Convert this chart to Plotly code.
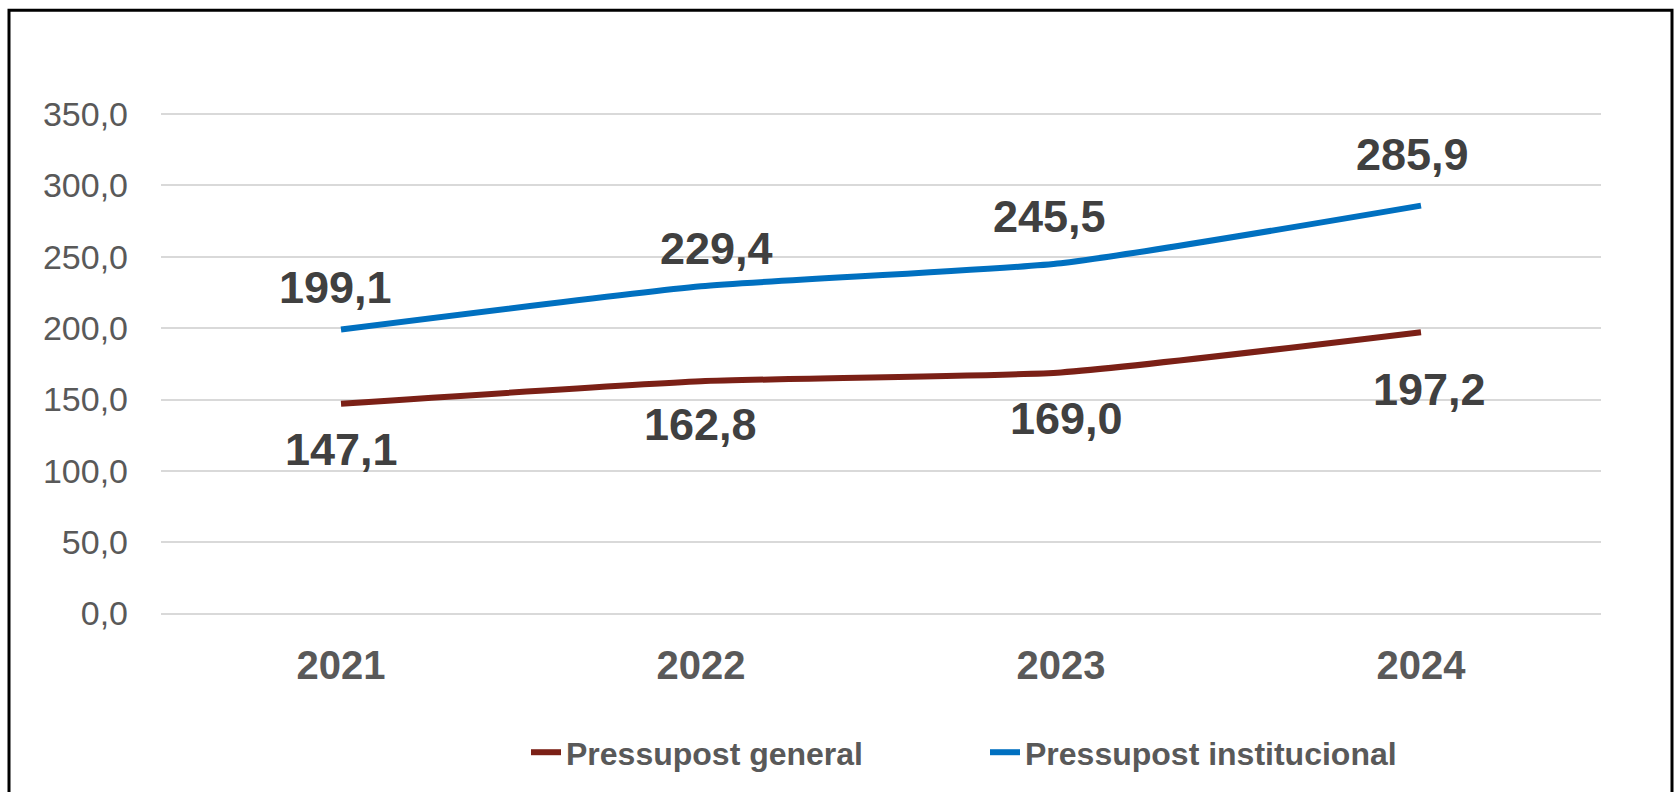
import plotly.graph_objects as go

years = ["2021", "2022", "2023", "2024"]
general = [147.1, 162.8, 169.0, 197.2]
institucional = [199.1, 229.4, 245.5, 285.9]
series_names = ["Pressupost general", "Pressupost institucional"]
y_ticks = [0, 50, 100, 150, 200, 250, 300, 350]

# styling
COL_GEN = "#7B2016"
COL_INS = "#0070C0"
FONT = "Arial, Liberation Sans, sans-serif"
lab_shift_ins = [(-6, 42), (15, 38), (-12, 47), (-9, 51)]
lab_shift_gen = [(0, -46), (-1, -43), (5, -46), (8, -57)]

W, H = 1674, 792
Y_MIN, Y_MAX = -1, 355
SCALE = 500 / 350           # px per unit
L, R = 161, 73
T = 114 - (Y_MAX - 350) * SCALE
ph = (Y_MAX - Y_MIN) * SCALE
B = H - T - ph
pw = W - L - R
y0_px = T + ph              # pixel of paper y=0

def fmt(v):
    return f"{v:.1f}".replace(".", ",")

fig = go.Figure()
fig.add_trace(go.Scatter(x=years, y=general, name=series_names[0], mode="lines",
                         line=dict(color=COL_GEN, width=6, shape="spline", smoothing=0.5)))
fig.add_trace(go.Scatter(x=years, y=institucional, name=series_names[1], mode="lines",
                         line=dict(color=COL_INS, width=6, shape="spline", smoothing=0.5)))

for vals, shifts in ((institucional, lab_shift_ins), (general, lab_shift_gen)):
    for i, (v, (dx, dy)) in enumerate(zip(vals, shifts)):
        fig.add_annotation(x=i, y=v, xref="x", yref="y", text=fmt(v), showarrow=False,
                           xshift=dx, yshift=dy,
                           font=dict(family=FONT, size=45, color="#404040", weight="bold"))

# outer border
fig.add_shape(type="rect", xref="paper", yref="paper",
              x0=(9 - L) / pw, x1=(1672 - L) / pw,
              y0=(y0_px - 830) / ph, y1=(y0_px - 10) / ph,
              line=dict(color="black", width=3), fillcolor="rgba(0,0,0,0)", layer="above")

fig.update_layout(
    width=W, height=H,
    margin=dict(l=L, r=R, t=T, b=B, pad=0),
    paper_bgcolor="white", plot_bgcolor="white",
    separators=",.",
    font=dict(family=FONT, color="#595959"),
    showlegend=True,
    legend=dict(orientation="h", x=(526 - L) / pw, xanchor="left",
                y=(y0_px - 753) / ph, yanchor="middle",
                font=dict(family=FONT, size=32, color="#595959", weight="bold"),
                entrywidth=414, entrywidthmode="pixels",
                bgcolor="rgba(0,0,0,0)"),
    xaxis=dict(type="category", range=[-0.5, 3.5], showgrid=False, showline=False,
               zeroline=False, ticks="", ticklabelstandoff=23,
               tickfont=dict(family=FONT, size=40, color="#595959", weight="bold")),
    yaxis=dict(range=[Y_MIN, Y_MAX], tickvals=y_ticks, tickformat=".1f",
               showgrid=True, gridcolor="#D9D9D9", gridwidth=2,
               zeroline=False, showline=False, ticks="", ticklabelstandoff=32,
               tickfont=dict(family=FONT, size=34, color="#595959")),
)

fig.write_html("out.html", config={"displayModeBar": False},
               post_script="document.body.style.margin='0';document.body.style.padding='0';")
